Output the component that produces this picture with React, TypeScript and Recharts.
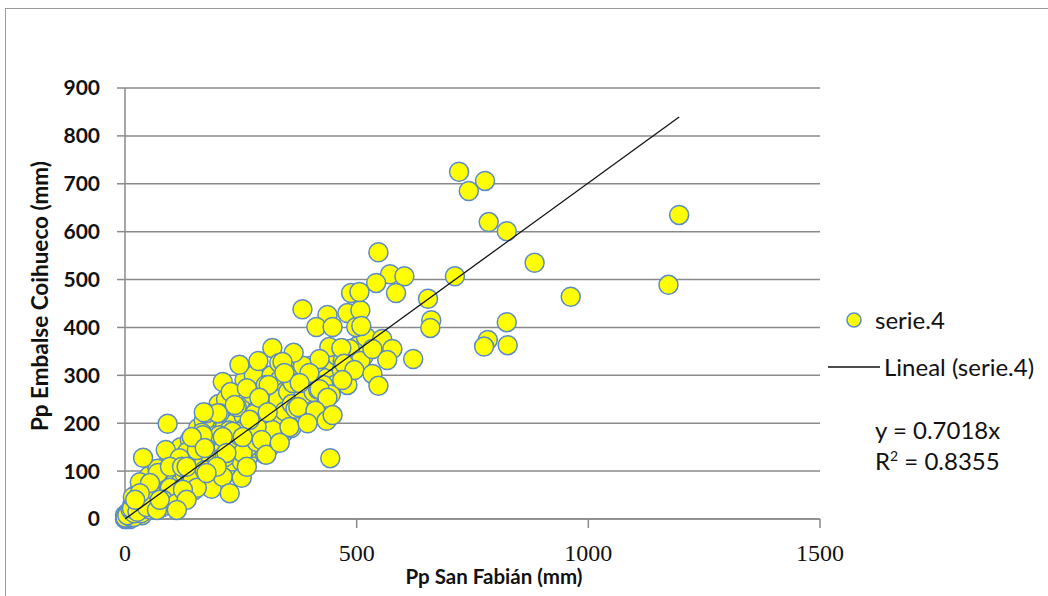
import { CartesianGrid, Scatter, ScatterChart, XAxis, YAxis } from 'recharts'

const xTicks = [0, 500, 1000, 1500]
const yTicks = [0, 100, 200, 300, 400, 500, 600, 700, 800, 900]

const xTitle = 'Pp San Fabián (mm)'
const yTitle = 'Pp Embalse Coihueco (mm)'
const seriesName = 'serie.4'
const trendName = 'Lineal (serie.4)'

// [Pp San Fabián, Pp Embalse Coihueco] in mm
const points: [number, number][] = [
  [0, 0], [2, 2], [4, 0], [9, 5], [0, 8], [6, 13], [11, 0], [3, 5], [8, 2], [14, 10],
  [1, 3], [7, 10], [10, 15], [13, 4], [18, 25], [23, 8], [26, 35], [31, 20], [37, 8],
  [19, 4], [25, 18], [28, 30], [35, 12], [41, 48], [44, 22], [50, 35], [57, 52], [60, 28], [63, 80],
  [66, 44], [74, 58], [78, 90], [80, 25], [85, 70], [90, 52], [94, 118], [101, 84], [104, 45], [108, 130],
  [110, 72], [116, 95], [120, 150], [126, 58], [131, 82], [138, 120], [140, 165], [145, 100], [149, 60], [152, 132],
  [158, 190], [161, 88], [165, 115], [170, 205], [174, 130], [178, 72], [182, 160], [186, 196], [190, 118], [194, 92],
  [198, 150], [202, 240], [206, 135], [210, 190], [214, 100], [218, 250], [222, 160], [226, 118], [230, 210], [234, 140],
  [238, 262], [242, 104], [246, 195], [250, 230], [255, 155], [258, 290], [262, 182], [266, 130], [270, 240], [274, 205],
  [278, 300], [282, 148], [286, 230], [290, 185], [294, 268], [298, 210], [302, 135], [306, 245], [312, 195], [316, 300],
  [320, 172], [326, 255], [330, 215], [338, 280], [342, 180], [348, 240], [352, 310], [358, 220], [366, 260], [372, 205],
  [380, 300], [388, 245], [395, 270], [402, 320], [410, 250], [418, 290], [426, 230], [432, 300], [440, 275], [455, 320],
  [462, 300], [475, 345], [490, 330], [500, 360], [515, 340], [520, 380],
  [5, 8], [12, 20], [16, 30], [20, 12], [24, 50], [30, 38], [33, 62], [38, 25], [46, 70], [52, 90],
  [58, 40], [70, 105], [72, 66], [88, 100], [96, 70], [100, 110], [114, 85], [122, 120], [134, 140], [136, 72],
  [142, 95], [156, 110], [168, 140], [176, 160], [188, 140], [196, 175], [206, 160], [216, 195], [228, 170], [236, 200],
  [248, 150], [256, 215], [268, 175], [276, 260], [288, 205], [296, 240], [304, 280], [314, 250], [324, 230], [334, 290],
  [344, 265], [356, 250], [364, 300], [376, 265], [384, 320], [392, 230], [404, 280], [414, 310], [424, 262], [436, 295],
  [446, 330], [452, 280], [468, 310], [480, 280], [485, 355], [496, 315], [508, 330],
  [15, 22], [27, 15], [36, 40], [42, 33], [48, 55], [55, 20], [62, 60], [68, 35], [76, 75], [84, 50],
  [92, 85], [99, 60], [106, 100], [113, 55], [119, 75], [128, 95], [135, 115], [143, 80], [150, 120], [157, 95],
  [163, 150], [171, 120], [180, 105], [185, 130], [192, 165], [199, 125], [208, 110], [213, 150], [220, 140], [225, 185],
  [232, 120], [239, 160], [245, 175], [252, 120], [259, 190], [265, 150], [272, 190], [280, 220], [287, 165], [293, 200],
  [300, 175], [308, 210], [315, 225], [322, 200], [331, 250], [336, 210], [345, 225], [352, 265], [360, 240], [368, 230],
  [378, 280], [386, 260], [396, 290], [407, 265], [417, 270], [428, 280], [444, 260], [458, 340], [470, 330],
  [92, 199], [176, 221], [204, 221], [241, 234], [39, 128], [88, 144], [118, 127], [71, 96], [129, 106], [166, 180],
  [211, 129], [243, 182], [284, 171], [146, 81], [187, 63], [97, 65], [54, 61], [32, 77], [17, 46], [47, 25],
  [82, 40], [112, 33], [69, 19], [97, 109], [123, 109], [155, 144], [204, 175], [215, 129], [254, 138], [284, 161],
  [312, 150], [318, 186], [284, 192], [172, 102], [155, 65], [125, 61], [54, 75], [32, 54], [22, 40], [75, 40],
  [133, 40], [112, 19], [211, 88], [226, 54], [252, 86],
  [318, 357], [247, 322], [288, 330], [333, 326], [211, 286], [228, 265], [263, 273], [310, 280], [362, 284], [290, 253],
  [237, 238], [200, 221], [170, 223], [308, 223], [359, 190], [269, 207], [232, 182], [168, 175], [144, 171], [295, 165],
  [254, 171], [211, 171], [172, 148], [219, 138], [263, 109], [305, 134], [198, 109], [133, 109], [176, 96],
  [488, 472], [383, 438], [437, 426], [480, 430], [508, 436], [413, 401], [448, 401], [499, 401], [441, 359], [467, 357],
  [364, 347], [420, 334], [473, 324], [495, 311], [340, 328], [344, 305], [398, 305], [469, 290], [377, 284], [420, 271],
  [437, 253], [374, 234], [411, 226], [435, 205], [355, 192], [394, 200], [448, 217], [443, 127], [334, 159],
  [547, 557], [572, 511], [603, 507], [542, 493], [585, 472], [712, 507], [654, 460], [661, 415], [659, 399], [622, 334],
  [555, 376], [534, 355], [577, 355], [566, 332], [534, 303], [547, 278], [510, 403], [506, 474],
  [721, 725], [742, 685], [777, 706], [785, 620], [824, 601], [884, 535], [962, 464], [1173, 489], [1196, 635],
  [824, 411], [783, 374], [775, 360], [826, 363],
]

const trendSlope = 0.7018
const trendR2 = 0.8355
const trendX = [0, 1196]

const scatterData = points.map(([x, y]) => ({ x, y }))
const trendData = trendX.map((x) => ({ x, y: trendSlope * x }))

const gray = '#8a8a8a'
const yellow = '#ffff00'
const ring = '#5b8bc5'
const font = 'Lato, "Open Sans", sans-serif'

function Dot(props: any) {
  const { cx, cy } = props
  if (cx == null || cy == null) return <g />
  return <circle cx={cx} cy={cy} r={9.5} fill={yellow} stroke={ring} strokeWidth={1.5} />
}

export default function App() {
  return (
    <div style={{ position: 'absolute', left: 0, top: 0, width: 1048, height: 596, overflow: 'hidden', background: '#fff', fontFamily: font, color: '#111' }}>
      <div style={{ position: 'absolute', left: 5, top: 8, width: 1100, height: 700, border: '1.5px solid #9a9a9a' }} />
      <ScatterChart width={1048} height={596} margin={{ top: 88, right: 228, bottom: 0, left: 0 }} style={{ position: 'absolute', left: 0, top: 0 }}>
        <CartesianGrid vertical={false} stroke={gray} strokeWidth={1.5} />
        <XAxis
          type="number"
          dataKey="x"
          domain={[0, 1500]}
          ticks={xTicks}
          height={77}
          stroke={gray}
          strokeWidth={1.5}
          tickSize={9}
          tickMargin={16}
          tick={{ fontSize: 24, fill: '#111', fontFamily: '"Liberation Serif", serif' }}
        />
        <YAxis
          type="number"
          dataKey="y"
          domain={[0, 900]}
          ticks={yTicks}
          width={125}
          stroke={gray}
          strokeWidth={1.5}
          tickSize={8}
          tickMargin={17}
          tick={{ fontSize: 21, fontWeight: 700, fill: '#111', fontFamily: font }}
        />
        <Scatter data={scatterData} shape={Dot} isAnimationActive={false} />
        <Scatter
          data={trendData}
          line={{ stroke: '#111', strokeWidth: 1.3 }}
          shape={() => <g />}
          isAnimationActive={false}
        />
      </ScatterChart>
      <div style={{ position: 'absolute', left: 494 - 150, top: 563, width: 300, textAlign: 'center', fontSize: 20.5, fontWeight: 700, lineHeight: '26px' }}>
        {xTitle}
      </div>
      <div style={{ position: 'absolute', left: 40 - 200, top: 296 - 14, width: 400, height: 28, textAlign: 'center', fontSize: 22.5, fontWeight: 700, lineHeight: '28px', transform: 'rotate(-90deg)' }}>
        {yTitle}
      </div>
      <svg width={60} height={80} style={{ position: 'absolute', left: 824, top: 300 }}>
        <circle cx={30} cy={20} r={7} fill={yellow} stroke={ring} strokeWidth={1.5} />
        <line x1={4} x2={56} y1={67} y2={67} stroke="#111" strokeWidth={1.3} />
      </svg>
      <div style={{ position: 'absolute', left: 875, top: 305, fontSize: 24, lineHeight: '30px', whiteSpace: 'nowrap' }}>{seriesName}</div>
      <div style={{ position: 'absolute', left: 884, top: 352, fontSize: 24, lineHeight: '30px', whiteSpace: 'nowrap' }}>{trendName}</div>
      <div style={{ position: 'absolute', left: 875, top: 415, fontSize: 24, lineHeight: '30px', whiteSpace: 'nowrap' }}>
        y = {trendSlope}x
      </div>
      <div style={{ position: 'absolute', left: 875, top: 446, fontSize: 24, lineHeight: '30px', whiteSpace: 'nowrap' }}>
        R<sup style={{ fontSize: 14, verticalAlign: 'top', lineHeight: '20px' }}>2</sup> = {trendR2}
      </div>
    </div>
  )
}
